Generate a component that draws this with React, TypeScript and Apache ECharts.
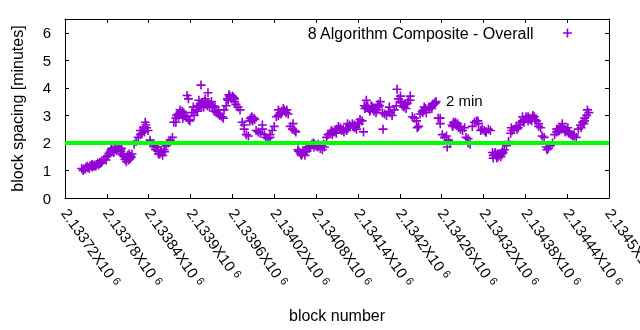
import React, { useEffect, useRef } from "react";
import * as echarts from "echarts";

const FIRST_BLOCK = 2133720;
const LAST_BLOCK = 2134500;
const X_STEP = 60;
const xTickLabels = [
  "2.13372", "2.13378", "2.13384", "2.1339", "2.13396", "2.13402", "2.13408",
  "2.13414", "2.1342", "2.13426", "2.13432", "2.13438", "2.13444", "2.1345",
];
const xTickSuffix = "X10";
const xTickExponent = "6";
const yTickLabels = ["0", "1", "2", "3", "4", "5", "6"];
const seriesName = "8 Algorithm Composite - Overall";
const referenceMinutes = 2;
const referenceLabel = "2 min";
const xAxisName = "block number";
const yAxisName = "block spacing [minutes]";

// [block offset from FIRST_BLOCK, block spacing in minutes]
const points: [number, number][] = [
  [24,1.07],[27,1.05],[30,1.12],[33,1.1],[36,1.17],[39,1.13],[42,1.2],[44,1.15],[47,1.27],[50,1.3],
  [53,1.35],[56,1.4],[59,1.38],[62,1.55],[65,1.68],[67,1.72],[70,1.65],[73,1.78],[76,1.8],[79,1.75],
  [82,1.6],[85,1.5],[88,1.45],[90,1.55],[93,1.42],[96,1.6],[99,1.95],[102,2.05],[105,2.2],[108,2.3],
  [110,2.35],[113,2.55],[116,2.65],[119,2.45],[122,2.1],[125,1.95],[128,1.9],[131,1.85],[133,1.7],[136,1.6],
  [139,1.65],[142,1.75],[145,1.9],[148,2.0],[151,2.1],[154,2.2],[156,2.75],[159,2.9],[162,3.05],[165,3.1],
  [168,3.15],[171,3.0],[174,2.95],[177,2.85],[179,2.8],[182,3.1],[185,3.0],[188,3.2],[191,3.35],[194,3.4],
  [197,3.45],[199,3.3],[202,3.4],[205,3.45],[208,3.4],[211,3.3],[214,3.15],[217,3.1],[220,3.05],[222,3.0],
  [225,2.95],[228,3.2],[231,3.35],[234,3.55],[237,3.65],[240,3.7],[243,3.6],[245,3.4],[248,3.3],[251,3.2],
  [254,2.75],[257,2.5],[260,2.3],[263,2.25],[265,2.8],[268,2.85],[271,2.9],[274,2.45],[277,2.4],[280,2.35],
  [283,2.5],[286,2.3],[288,2.2],[291,2.15],[294,2.2],[297,2.45],[300,2.6],[303,2.95],[306,3.0],[309,3.1],
  [311,3.15],[314,3.2],[317,3.1],[320,3.05],[323,2.6],[326,2.5],[329,2.45],[331,2.4],[334,1.75],[337,1.65],
  [340,1.6],[343,1.7],[346,1.75],[349,1.85],[352,1.9],[354,1.95],[357,1.85],[360,1.9],[363,1.95],[366,1.8],
  [369,1.75],[372,1.85],[375,2.2],[377,2.3],[380,2.35],[383,2.3],[386,2.4],[389,2.35],[392,2.6],[395,2.55],
  [397,2.45],[400,2.4],[403,2.5],[406,2.55],[409,2.6],[412,2.7],[415,2.55],[418,2.5],[420,2.75],[423,2.85],
  [426,2.8],[429,3.35],[432,3.3],[435,3.25],[438,3.2],[441,3.3],[443,3.15],[446,3.1],[449,3.4],[452,3.5],
  [455,3.1],[458,3.05],[461,3.0],[464,3.15],[466,3.1],[469,3.0],[472,3.2],[475,3.35],[478,3.6],[481,3.5],
  [484,3.35],[486,3.3],[489,3.25],[492,3.55],[495,3.7],[498,2.95],[501,2.9],[504,2.8],[507,2.6],[509,3.05],
  [512,3.15],[515,3.2],[518,3.1],[521,3.25],[524,3.3],[527,3.35],[530,3.45],[532,3.5],[535,2.9],[538,2.7],
  [541,2.3],[544,2.2],[547,2.25],[550,2.1],[552,2.0],[555,2.65],[558,2.7],[561,2.65],[564,2.55],[567,2.5],
  [570,2.45],[573,2.55],[575,2.2],[578,2.15],[581,1.95],[584,2.6],[587,2.75],[590,2.8],[593,2.7],[596,2.45],
  [598,2.5],[601,2.45],[604,2.4],[607,2.5],[610,2.45],[613,1.65],[616,1.6],[618,1.55],[621,1.5],[624,1.55],
  [627,1.6],[630,1.75],[633,1.9],[636,2.05],[639,2.35],[641,2.45],[644,2.5],[647,2.6],[650,2.55],[653,2.75],
  [656,2.8],[659,2.85],[662,2.9],[664,2.8],[667,2.85],[670,2.9],[673,2.95],[676,2.8],[679,2.7],[682,2.55],
  [684,2.25],[687,2.2],[690,1.85],[693,1.8],[696,1.9],[699,2.0],[702,2.3],[705,2.4],[707,2.5],[710,2.55],
  [713,2.6],[716,2.5],[719,2.45],[722,2.35],[725,2.3],[728,2.25],[730,2.25],[733,2.2],[736,2.5],[739,2.65],
  [742,2.75],[745,2.9],[748,3.0],[751,3.1],
  [175,3.72],[177,3.6],[195,4.1],[205,3.82],[190,3.15],[215,3.3],[26,1.0],[39,1.22],[50,1.25],[67,1.8],
  [72,1.85],[88,1.32],[92,1.6],[108,2.45],[115,2.75],[122,2.0],[133,1.85],[151,2.05],[159,2.75],[165,3.2],
  [169,2.9],[184,3.3],[192,3.55],[201,3.6],[210,3.5],[220,3.2],[227,2.9],[235,3.75],[243,3.5],[257,2.65],
  [268,2.95],[283,2.65],[294,2.3],[306,3.2],[313,3.25],[327,2.7],[339,1.55],[346,1.85],[356,2.0],[366,1.9],
  [382,2.45],[390,2.5],[405,2.7],[415,2.65],[428,2.4],[432,3.55],[439,3.35],[449,3.3],[456,2.5],[465,3.3],
  [476,3.95],[481,3.7],[488,3.4],[495,3.55],[505,2.55],[515,3.3],[527,3.4],[538,2.9],[548,1.85],[557,2.75],
  [563,2.7],[578,2.0],[592,2.8],[603,2.4],[614,1.45],[620,1.6],[627,1.7],[640,2.55],[656,2.95],[664,2.95],
  [671,3.0],[679,2.6],[691,1.75],[705,2.5],[713,2.7],[721,2.55],[730,2.3],[745,2.8],[749,3.2],
  [60,1.5],[63,1.62],[66,1.75],[69,1.7],[71,1.78],[74,1.72],[77,1.85],[80,1.7],[81,1.8],
  [83,1.55],[86,1.4],[89,1.5],[91,1.38],[94,1.52],[95,1.48],
  [29,1.05],[32,1.15],[35,1.08],[38,1.18],[41,1.15],[45,1.22],[48,1.2],[52,1.28],
  [111,2.45],[114,2.4],[117,2.55],
  [130,1.75],[134,1.6],[137,1.7],[140,1.55],[143,1.68],
  [160,3.0],[163,2.95],[166,3.05],[170,3.1],
  [189,3.3],[193,3.35],[196,3.3],[200,3.5],[204,3.35],[207,3.3],[212,3.35],
  [233,3.6],[236,3.7],[239,3.6],[242,3.65],
  [266,2.9],[269,2.8],[272,2.85],
  [310,3.05],[315,3.15],[318,3.2],
  [335,1.7],[338,1.6],[341,1.65],[344,1.55],[347,1.7],[350,1.8],
  [358,1.95],[362,1.85],[368,1.9],[371,1.95],
  [384,2.4],[388,2.45],[394,2.5],[399,2.5],[404,2.45],[408,2.65],[413,2.6],[417,2.6],[422,2.7],
  [430,3.25],[434,3.35],[437,3.15],[442,3.25],[447,3.2],[451,3.35],
  [483,3.45],[487,3.4],[491,3.45],
  [513,3.1],[517,3.25],[522,3.3],[526,3.25],[529,3.4],[531,3.45],
  [556,2.6],[560,2.75],[566,2.6],
  [614,1.55],[617,1.65],[619,1.45],[622,1.6],[625,1.5],[628,1.65],
  [648,2.5],[652,2.65],[658,2.75],[661,2.95],[666,2.9],[669,2.8],[674,2.85],
  [709,2.45],[712,2.5],[717,2.4],[723,2.4],[727,2.3],
  [740,2.55],[744,2.7],
];

const PURPLE = "#9400d3";
const GREEN = "#00ff00";
const FONT = '"Liberation Sans", Arial, sans-serif';
const PLUS = "path://M4.1 0H5.9V10H4.1Z M0 4.1H10V5.9H0Z";

export default function App() {
  const ref = useRef<HTMLDivElement>(null);
  useEffect(() => {
    if (!ref.current) return;
    const chart = echarts.init(ref.current, undefined, { renderer: "svg" });
    const axisLine = { show: true, onZero: false, lineStyle: { color: "#000", width: 1 } };
    const axisTick = { show: true, inside: true, length: 4, lineStyle: { color: "#000", width: 1 } };
    chart.setOption({
      animation: false,
      textStyle: { fontFamily: FONT },
      grid: { left: 65, right: 31, top: 19, bottom: 132, containLabel: false, outerBoundsMode: "none" },
      legend: {
        data: [seriesName],
        right: 68,
        top: 25,
        align: "right",
        padding: 0,
        itemWidth: 58,
        itemHeight: 9,
        textStyle: { fontSize: 16, color: "#000", fontFamily: FONT },
      },
      xAxis: [
        {
          type: "value",
          min: FIRST_BLOCK,
          max: LAST_BLOCK,
          interval: X_STEP,
          position: "bottom",
          axisLine,
          axisTick,
          splitLine: { show: false },
          name: xAxisName,
          nameLocation: "middle",
          nameGap: 109,
          nameTextStyle: { fontSize: 16, color: "#000", fontFamily: FONT },
          axisLabel: {
            rotate: -55,
            margin: 12,
            showMinLabel: true,
            showMaxLabel: true,
            hideOverlap: false,
            formatter: (v: number) => {
              const i = Math.round((v - FIRST_BLOCK) / X_STEP);
              const t = xTickLabels[i];
              return t ? `{a|${t}${xTickSuffix}}{s|${xTickExponent}}` : "";
            },
            rich: {
              a: { fontSize: 15, color: "#000", fontFamily: FONT, lineHeight: 15 },
              s: { fontSize: 11, color: "#000", fontFamily: FONT, padding: [0, 0, 0, 4], verticalAlign: "top" },
            },
          },
        },
        {
          type: "value",
          min: FIRST_BLOCK,
          max: LAST_BLOCK,
          interval: X_STEP,
          position: "top",
          axisLine,
          axisTick,
          axisLabel: { show: false },
          splitLine: { show: false },
        },
      ],
      yAxis: [
        {
          type: "value",
          min: 0,
          max: 6.5,
          interval: 1,
          position: "left",
          axisLine,
          axisTick,
          splitLine: { show: false },
          name: yAxisName,
          nameLocation: "middle",
          nameRotate: 90,
          nameGap: 40,
          nameTextStyle: { fontSize: 16, color: "#000", fontFamily: FONT },
          axisLabel: {
            margin: 14,
            fontSize: 15,
            color: "#000",
            showMaxLabel: false,
            formatter: (v: number) => (Number.isInteger(v) && yTickLabels[v] !== undefined ? yTickLabels[v] : ""),
          },
        },
        {
          type: "value",
          min: 0,
          max: 6.5,
          interval: 1,
          position: "right",
          axisLine,
          axisTick,
          axisLabel: { show: false },
          splitLine: { show: false },
        },
      ],
      series: [
        {
          name: seriesName,
          type: "scatter",
          data: points.map(([o, m]) => [FIRST_BLOCK + o, m]),
          symbol: PLUS,
          symbolSize: 9,
          symbolKeepAspect: true,
          itemStyle: { color: PURPLE, opacity: 1 },
          z: 2,
        },
        {
          name: referenceLabel,
          type: "line",
          data: [[FIRST_BLOCK, referenceMinutes], [LAST_BLOCK, referenceMinutes]],
          symbol: "none",
          lineStyle: { color: GREEN, width: 4 },
          silent: true,
          z: 3,
        },
      ],
      graphic: [
        {
          type: "text",
          left: 446,
          top: 93,
          style: { text: referenceLabel, fontSize: 15, fill: "#000", fontFamily: FONT },
        },
      ],
    });
    return () => chart.dispose();
  }, []);
  return <div ref={ref} style={{ position: "fixed", left: 0, top: 0, width: 640, height: 330 }} />;
}
